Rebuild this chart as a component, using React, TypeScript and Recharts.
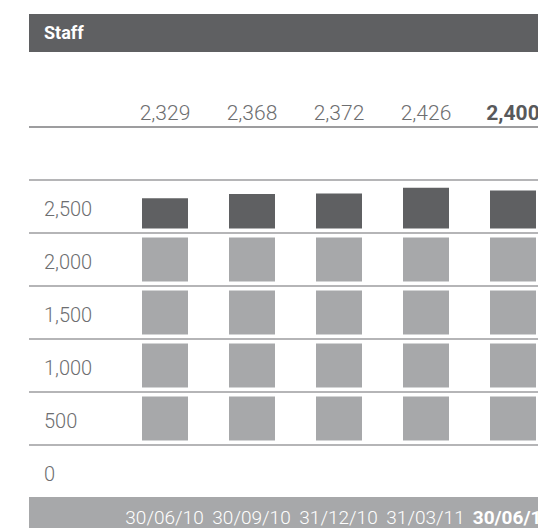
import React from 'react';
import { BarChart, Bar, XAxis, YAxis, ReferenceLine, LabelList } from 'recharts';

// staff numbers per reporting date
const dates = ['30/06/10', '30/09/10', '31/12/10', '31/03/11', '30/06/11'];
const staff = [2329, 2368, 2372, 2426, 2400];
const yTicks = [0, 500, 1000, 1500, 2000, 2500];
const split = 2000; // bar turns dark above this

const data = dates.map((d, i) => ({
  date: d,
  value: staff[i],
  base: Math.min(staff[i], split),
  top: Math.max(staff[i] - split, 0),
}));

const FONT = 'Roboto, "Liberation Sans", sans-serif';
const TEXT = '#6d6e70';
const DARK = '#5f6062';
const LIGHT = '#a7a8aa';
const LINE = '#9d9d9f';
const last = dates.length - 1;

// tick label sits inside the band below its line
const bandLabel = (t: number) => (props: any) => {
  const { viewBox } = props;
  return (
    <text x={44} y={viewBox.y + 36} fill={TEXT} fontSize={20} fontFamily={FONT} fontWeight={300}>
      {t.toLocaleString('en-US')}
    </text>
  );
};

const XTick = (props: any) => {
  const { x, payload, index } = props;
  return (
    <text
      x={x}
      y={524}
      textAnchor="middle"
      fill="#ffffff"
      fontSize={19}
      fontFamily={FONT}
      fontWeight={index === last ? 700 : 300}
    >
      {payload.value}
    </text>
  );
};

const ValueLabel = (props: any) => {
  const { x, width, value, index } = props;
  return (
    <text
      x={x + width / 2}
      y={120}
      textAnchor="middle"
      fill={index === last ? '#58595b' : TEXT}
      fontSize={21}
      fontFamily={FONT}
      fontWeight={index === last ? 700 : 300}
    >
      {value.toLocaleString('en-US')}
    </text>
  );
};

export default function App() {
  return (
    <div style={{ position: 'absolute', left: 0, top: 0, width: 538, height: 528, overflow: 'hidden', background: '#fff' }}>
      {/* header band */}
      <div style={{ position: 'absolute', left: 29, top: 14, width: 520, height: 38, background: DARK }}>
        <span style={{ position: 'absolute', left: 15, top: 8, color: '#fff', fontFamily: FONT, fontWeight: 700, fontSize: 18 }}>
          Staff
        </span>
      </div>
      {/* rule under value row */}
      <div style={{ position: 'absolute', left: 29, top: 126, width: 520, height: 2, background: LINE }} />
      {/* footer band behind dates */}
      <div style={{ position: 'absolute', left: 29, top: 497, width: 520, height: 31, background: LIGHT }} />
      <div style={{ position: 'absolute', left: 0, top: 0 }}>
        <BarChart
          width={556}
          height={528}
          data={data}
          margin={{ top: 180, right: 0, bottom: 0, left: 29 }}
        >
          <XAxis
            dataKey="date"
            axisLine={false}
            tickLine={false}
            height={83}
            padding={{ left: 92, right: 0 }}
            tick={<XTick />}
            interval={0}
          />
          <YAxis domain={[0, 2500]} ticks={yTicks} hide />
          <Bar dataKey="base" stackId="s" fill={LIGHT} barSize={46} isAnimationActive={false} />
          <Bar dataKey="top" stackId="s" fill={DARK} barSize={46} isAnimationActive={false}>
            <LabelList dataKey="value" content={<ValueLabel />} />
          </Bar>
          {yTicks.map((t) => (
            <ReferenceLine key={`w${t}`} y={t} stroke="#ffffff" strokeWidth={9} />
          ))}
          {yTicks.map((t) => (
            <ReferenceLine key={`g${t}`} y={t} stroke={LINE} strokeWidth={1.5} label={{ content: bandLabel(t) }} />
          ))}
        </BarChart>
      </div>
    </div>
  );
}
